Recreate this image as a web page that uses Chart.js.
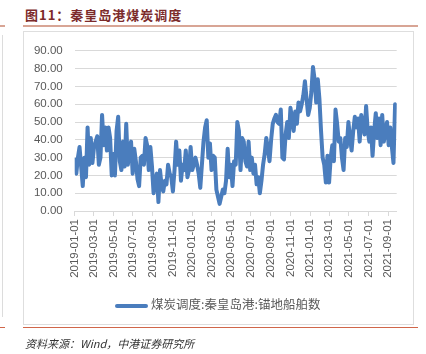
<!DOCTYPE html>
<html>
<head>
<meta charset="utf-8">
<script src="https://cdn.jsdelivr.net/npm/chart.js@4/dist/chart.umd.min.js"></script>
<style>
  html, body { margin: 0; padding: 0; background: #fff; }
  body { width: 426px; height: 354px; position: relative; overflow: hidden; }
  .title { position: absolute; left: 25px; top: 5px; font: bold 13px "Noto Sans CJK SC", sans-serif; letter-spacing: 1px; color: #7c2b2b; }
  .rule { position: absolute; height: 0; }
  .box { position: absolute; left: 23px; top: 31px; width: 389px; height: 292px; border: 1px solid #dedede; }
  .legend { position: absolute; left: 115px; top: 294px; font: 12.5px "Noto Sans CJK SC", sans-serif; color: #595959; }
  .legend i { display: inline-block; width: 33px; height: 4px; background: #4a7dbd; border-radius: 2px; vertical-align: middle; margin-right: 3px; }
  .source { position: absolute; left: 25px; top: 335px; font: italic 11px "Noto Sans CJK SC", sans-serif; color: #333; }
</style>
</head>
<body>
<div class="title">图11：秦皇岛港煤炭调度</div>
<div class="rule" style="left:0;top:25px;width:5px;border-top:2px solid #d8a595"></div>
<div class="rule" style="left:23px;top:25px;width:395px;border-top:2px solid #d8a595"></div>
<div class="rule" style="left:2px;top:35px;height:282px;border-left:1px solid #dcdcdc"></div>
<div class="box"><canvas id="chart" width="389" height="292"></canvas></div>
<div class="legend"><i></i>煤炭调度:秦皇岛港:锚地船舶数</div>
<div class="rule" style="left:0;top:327px;width:5px;border-top:1px solid #d0664a"></div>
<div class="rule" style="left:23px;top:327px;width:395px;border-top:1px solid #d0664a"></div>
<div class="source">资料来源：Wind，中港证券研究所</div>

<script>
// anchorage ship count, one reading every 5 days from 2019-01-01
const startDate = '2019-01-01';
const stepDays = 5;
const values = [
  29, 21, 30, 36, 25, 14, 30, 19, 47,
  26, 41, 27, 36, 39, 42, 26, 30, 54, 37,
  47, 34, 47, 41, 20, 32, 20, 45, 53, 28,
  23, 39, 25, 49, 26, 34, 39, 21, 35, 28,
  18, 14, 30, 31, 26, 41, 37, 23, 36,
  25, 10, 17, 21, 5, 23, 14, 11, 17, 15,
  26, 21, 19, 11, 23, 39, 26, 34, 17, 26,
  23, 34, 19, 23, 36, 23, 26, 30, 26, 21,
  13, 26, 39, 47, 51, 30, 38, 23, 31, 30,
  12, 8, 4,
  8, 12, 10, 17, 35, 19, 26, 14, 28, 26,
  50, 45, 23, 41, 39, 28, 25, 39, 23, 30,
  21, 26, 15, 19, 10, 17, 26, 32, 41, 35,
  28, 40, 49, 52, 54, 50, 49, 57, 30, 29,
  43, 50, 41, 58, 52, 45, 56, 49, 61, 56,
  60, 65, 73, 63, 54, 58, 67, 81, 74, 61,
  74, 63, 45, 30, 26, 16, 31, 16, 30, 37,
  28, 57, 49, 39, 41, 30, 23, 41, 36, 50, 41,
  34, 45, 53, 47, 52, 39, 54, 48, 43, 59, 45,
  39, 47, 31, 45, 55, 41, 52, 37, 54, 39,
  45, 50, 37, 47, 36, 27, 60, 59
];
const tickLabels = [
  '2019-01-01', '2019-03-01', '2019-05-01', '2019-07-01', '2019-09-01', '2019-11-01',
  '2020-01-01', '2020-03-01', '2020-05-01', '2020-07-01', '2020-09-01', '2020-11-01',
  '2021-01-01', '2021-03-01', '2021-05-01', '2021-07-01', '2021-09-01'
];
const endDate = '2021-09-27';

const dayOf = s => (Date.parse(s) - Date.parse(startDate)) / 86400000;
const points = values.map((v, i) => ({ x: i * stepDays, y: v }));
const tickFont = { family: '"Liberation Sans", Arial, sans-serif', size: 11.5 };

new Chart(document.getElementById('chart').getContext('2d'), {
  type: 'line',
  data: {
    datasets: [{
      label: '煤炭调度:秦皇岛港:锚地船舶数',
      data: points,
      borderColor: '#4a7dbd',
      borderWidth: 4,
      pointRadius: 0,
      tension: 0,
      borderJoinStyle: 'round',
      borderCapStyle: 'round'
    }]
  },
  options: {
    responsive: false,
    animation: false,
    layout: { padding: { left: 0, top: 16.3, right: 16.3, bottom: 43 } },
    plugins: { legend: { display: false }, tooltip: { enabled: false } },
    scales: {
      x: {
        type: 'linear',
        min: 0,
        max: dayOf(endDate),
        afterBuildTicks: s => { s.ticks = tickLabels.map(t => ({ value: dayOf(t) })); },
        afterFit: s => { s.height = 70; },
        ticks: {
          autoSkip: false,
          minRotation: 90,
          maxRotation: 90,
          padding: 3,
          color: '#595959',
          font: tickFont,
          callback: (v, i) => tickLabels[i]
        },
        grid: { drawOnChartArea: false, drawTicks: true, tickLength: 5, color: '#d9d9d9' },
        border: { color: '#d9d9d9' }
      },
      y: {
        min: 0,
        max: 90,
        afterFit: s => { s.width = 50.7; },
        ticks: {
          stepSize: 10,
          padding: 12,
          color: '#595959',
          font: tickFont,
          callback: v => v.toFixed(2)
        },
        grid: { color: '#d9d9d9', drawTicks: false },
        border: { display: false }
      }
    }
  }
});
</script>
</body>
</html>
